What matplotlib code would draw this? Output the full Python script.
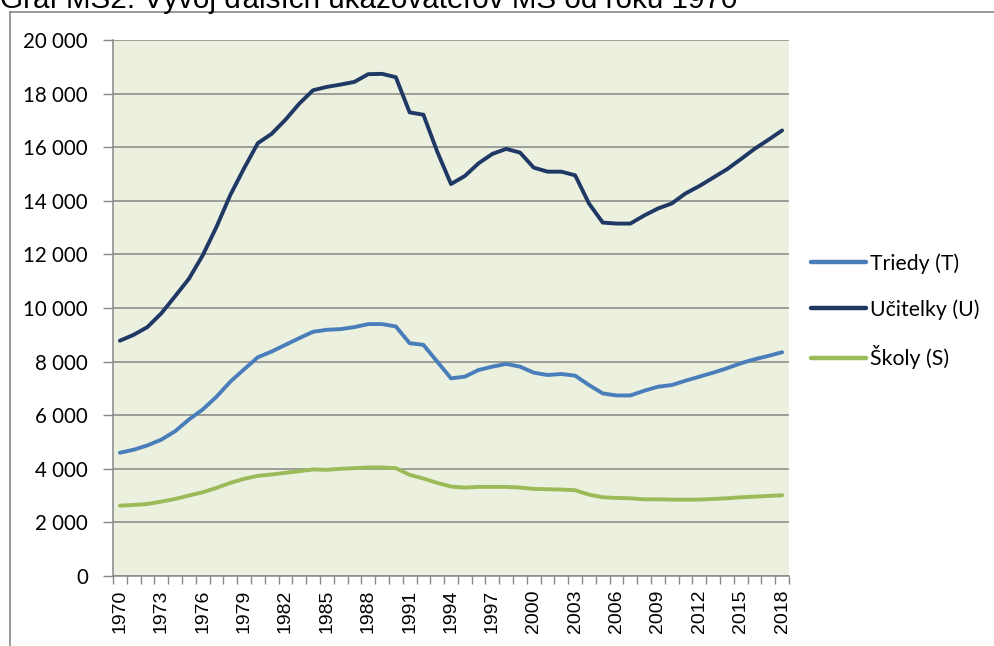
import matplotlib
matplotlib.use("Agg")
import matplotlib.pyplot as plt
from matplotlib.lines import Line2D
from matplotlib.ticker import FuncFormatter, FixedLocator
import numpy as np

years = list(range(1970, 2019))

triedy = [4600, 4712, 4875, 5087, 5400, 5837, 6212, 6687, 7250, 7712,
          8162, 8375, 8625, 8875, 9112, 9187, 9212, 9287, 9400, 9400,
          9312, 8687, 8625, 8000, 7375, 7437, 7687, 7812, 7912, 7812,
          7587, 7500, 7537, 7475, 7125, 6812, 6737, 6737, 6912, 7062,
          7125, 7287, 7437, 7587, 7750, 7937, 8087, 8212, 8350]

ucitelky = [8780, 9000, 9290, 9800, 10437, 11087, 11962, 13025, 14212, 15212,
            16150, 16500, 17025, 17625, 18125, 18250, 18337, 18437, 18725, 18737,
            18612, 17300, 17212, 15837, 14625, 14925, 15400, 15750, 15937, 15800,
            15237, 15087, 15087, 14950, 13900, 13187, 13150, 13150, 13450, 13712,
            13900, 14275, 14550, 14862, 15175, 15550, 15937, 16275, 16625]

skoly = [2625, 2650, 2687, 2775, 2875, 3000, 3125, 3287, 3475, 3625,
         3737, 3787, 3850, 3912, 3975, 3962, 4000, 4025, 4050, 4050,
         4025, 3775, 3637, 3475, 3337, 3300, 3325, 3325, 3325, 3300,
         3250, 3237, 3225, 3200, 3037, 2937, 2912, 2900, 2862, 2862,
         2850, 2850, 2850, 2875, 2900, 2937, 2962, 2987, 3012]

series_labels = ["Triedy (T)", "Učitelky (U)", "Školy (S)"]
series_colors = ["#4A7EBB", "#1F3864", "#9BBB59"]
title_text = "Graf MŠ2: Vývoj ďalších ukazovateľov MŠ od roku 1970"

W, H = 995, 646
fig = plt.figure(figsize=(W / 100, H / 100), dpi=100)
fig.patch.set_facecolor("white")

# plot area in pixels
L, R, T, B = 113, 789, 40, 576
ax = fig.add_axes([L / W, (H - B) / H, (R - L) / W, (B - T) / H])
ax.set_facecolor("#EBF0DF")

x = np.arange(len(years))
for vals, lab, col in zip([triedy, ucitelky, skoly], series_labels, series_colors):
    ax.plot(x, vals, color=col, lw=2.8, label=lab, solid_joinstyle="round",
            solid_capstyle="round", zorder=3)

ax.set_xlim(-0.5, len(years) - 0.5)
ax.set_ylim(0, 20000)

grid_col = "#878787"
yt = np.arange(0, 20001, 2000)
ax.set_yticks(yt)
ax.yaxis.set_major_formatter(FuncFormatter(lambda v, p: f"{int(v):,}".replace(",", " ")))
ax.grid(axis="y", color=grid_col, lw=1.1, zorder=1)
ax.set_axisbelow(True)

ax.set_xticks(x[::3])
ax.set_xticklabels([str(years[i]) for i in range(0, len(years), 3)], rotation=90,
                   fontfamily="Liberation Sans", fontsize=14)
ax.xaxis.set_minor_locator(FixedLocator(np.arange(-0.5, len(years), 1.0)))
ax.tick_params(axis="x", which="major", length=0, pad=10)
ax.tick_params(axis="x", which="minor", length=6, width=1, color=grid_col, direction="out")
ax.tick_params(axis="y", which="major", length=7, width=1, color=grid_col,
               direction="out", pad=11)
for lab in ax.get_yticklabels():
    lab.set_fontfamily("Lato")
    lab.set_fontsize(14.8)

for s in ["top", "right"]:
    ax.spines[s].set_visible(False)
for s in ["left", "bottom"]:
    ax.spines[s].set_color(grid_col)
    ax.spines[s].set_linewidth(1.1)

# legend
leg = fig.legend(loc="upper left", bbox_to_anchor=(811 / W, 1 - 253 / H),
                 frameon=False, prop={"family": "Lato", "size": 15.3},
                 handlelength=2.6, handletextpad=0.2, labelspacing=1.2,
                 borderaxespad=0, borderpad=0)
for h in leg.get_lines():
    h.set_linewidth(3.2)

# outer chart border (top and left visible)
fig.add_artist(Line2D([10 / W, 1.0], [1 - 12 / H, 1 - 12 / H], color="#888888", lw=1.2,
                      transform=fig.transFigure))
fig.add_artist(Line2D([10 / W, 10 / W], [0, 1 - 12 / H], color="#888888", lw=1.2,
                      transform=fig.transFigure))

# title, partially cut at the top (as in the source); scale to span target width
t = fig.text(0 / W, 1 - 8 / H, title_text, fontfamily="Liberation Sans", fontsize=17,
             ha="left", va="baseline")
fig.canvas.draw()
bb = t.get_window_extent()
t.set_fontsize(17 * 737 / bb.width)

fig.savefig("out.png", dpi=100)
